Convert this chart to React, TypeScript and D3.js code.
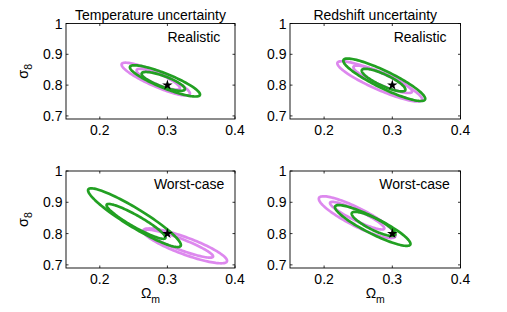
import React from 'react';
import * as d3 from 'd3';

// axis setup shared by the four panels
const xDomain = [0.15, 0.4];
const yDomain = [0.69, 1];
const xTicks = [0.2, 0.3, 0.4];
const yTicks = [0.7, 0.8, 0.9, 1];
const titles = ['Temperature uncertainty', 'Redshift uncertainty', '', ''];
const caseLabels = ['Realistic', 'Realistic', 'Worst-case', 'Worst-case'];
const caseLabelAt = [[0.3, 0.94], [0.302, 0.94], [0.28, 0.941], [0.281, 0.941]];
const fiducial = [0.3, 0.8];

// contours: [series, centre Om, centre s8, tip Om, tip s8, width/length]
const tempRealistic = [
  ['a', 0.2828, 0.8195, 0.2324, 0.8684, 0.19],
  ['a', 0.2865, 0.8189, 0.2546, 0.8489, 0.22],
  ['b', 0.2964, 0.8137, 0.2447, 0.8596, 0.19],
  ['b', 0.2939, 0.8121, 0.262, 0.8381, 0.23],
];
const zRealistic = [
  ['a', 0.2816, 0.8121, 0.2196, 0.8726, 0.18],
  ['a', 0.286, 0.8189, 0.2431, 0.8596, 0.19],
  ['b', 0.2882, 0.8173, 0.2284, 0.8814, 0.19],
  ['b', 0.2872, 0.8163, 0.2554, 0.8489, 0.24],
];
const tempWorst = [
  ['a', 0.3262, 0.7607, 0.2643, 0.8102, 0.19],
  ['a', 0.3172, 0.7677, 0.2669, 0.8093, 0.15],
  ['b', 0.2513, 0.8508, 0.183, 0.9412, 0.17],
  ['b', 0.2536, 0.839, 0.2102, 0.8923, 0.17],
];
const zWorst = [
  ['a', 0.2485, 0.8524, 0.1926, 0.9141, 0.21],
  ['a', 0.2485, 0.8572, 0.2088, 0.8988, 0.17],
  ['b', 0.2713, 0.8259, 0.2162, 0.8869, 0.19],
  ['b', 0.2725, 0.831, 0.2407, 0.8658, 0.24],
];
const contours = [tempRealistic, zRealistic, tempWorst, zWorst];

const colors = { a: '#dd88ee', b: '#22a022' };
const font = '"Liberation Sans", Arial, Helvetica, sans-serif';

// pixel boxes of the four axes
const boxes = [
  { x0: 66, x1: 235, y0: 23.5, y1: 119 },
  { x0: 290, x1: 460.5, y0: 23.5, y1: 119 },
  { x0: 66, x1: 235, y0: 171, y1: 268 },
  { x0: 290, x1: 460.5, y0: 171, y1: 268 },
];

const angles = d3.range(0, 2 * Math.PI, Math.PI / 60);

function Panel({ i }) {
  const b = boxes[i];
  const x = d3.scaleLinear().domain(xDomain).range([b.x0, b.x1]);
  const y = d3.scaleLinear().domain(yDomain).range([b.y1, b.y0]);
  const line = d3.line().curve(d3.curveLinearClosed);
  const tick = 2.5;

  const ellipse = (c) => {
    const cx = x(c[1]), cy = y(c[2]);
    const ax = x(c[3]) - cx, ay = y(c[4]) - cy;
    const bx = -ay * c[5], by = ax * c[5];
    return line(angles.map(t => [
      cx + ax * Math.cos(t) + bx * Math.sin(t),
      cy + ay * Math.cos(t) + by * Math.sin(t),
    ]));
  };

  const star = d3.symbol().type(d3.symbolStar).size(34)();

  return (
    <g>
      <defs>
        <clipPath id={'clip' + i}>
          <rect x={b.x0} y={b.y0} width={b.x1 - b.x0} height={b.y1 - b.y0} />
        </clipPath>
      </defs>
      <g clipPath={`url(#clip${i})`}>
        {contours[i].map((c, k) => (
          <path key={k} d={ellipse(c)} fill="none" stroke={colors[c[0]]} strokeWidth={2.7} />
        ))}
      </g>
      <path d={star} transform={`translate(${x(fiducial[0])},${y(fiducial[1])})`} fill="#000" />
      <rect x={b.x0} y={b.y0} width={b.x1 - b.x0} height={b.y1 - b.y0}
            fill="none" stroke="#000" strokeWidth={0.9} />
      {xTicks.map(t => (
        <g key={'x' + t}>
          <line x1={x(t)} x2={x(t)} y1={b.y1} y2={b.y1 - tick} stroke="#000" strokeWidth={0.8} />
          <line x1={x(t)} x2={x(t)} y1={b.y0} y2={b.y0 + tick} stroke="#000" strokeWidth={0.8} />
          <text x={x(t)} y={b.y1 + 15.5} textAnchor="middle" fontSize={14}>{t}</text>
        </g>
      ))}
      {yTicks.map(t => (
        <g key={'y' + t}>
          <line x1={b.x0} x2={b.x0 + tick} y1={y(t)} y2={y(t)} stroke="#000" strokeWidth={0.8} />
          <line x1={b.x1} x2={b.x1 - tick} y1={y(t)} y2={y(t)} stroke="#000" strokeWidth={0.8} />
          <text x={b.x0 - 3.5} y={y(t) + 5} textAnchor="end" fontSize={14}>{t}</text>
        </g>
      ))}
      {titles[i] && (
        <text x={(b.x0 + b.x1) / 2} y={b.y0 - 4} textAnchor="middle" fontSize={14}>{titles[i]}</text>
      )}
      <text x={x(caseLabelAt[i][0])} y={y(caseLabelAt[i][1])} fontSize={14}>{caseLabels[i]}</text>
      {i % 2 === 0 && (
        <text transform={`translate(27.5,${(b.y0 + b.y1) / 2}) rotate(-90)`} textAnchor="middle" fontSize={14.5}>
          σ<tspan dy={4} fontSize={10.5}>8</tspan>
        </text>
      )}
      {i >= 2 && (
        <text x={(b.x0 + b.x1) / 2} y={298} textAnchor="middle" fontSize={14}>
          Ω<tspan dy={5} fontSize={10.5}>m</tspan>
        </text>
      )}
    </g>
  );
}

export default function App() {
  return (
    <svg width={507} height={312} style={{ position: 'absolute', left: 0, top: 0, background: '#fff' }}
         fontFamily={font}>
      {boxes.map((b, i) => <Panel key={i} i={i} />)}
    </svg>
  );
}
